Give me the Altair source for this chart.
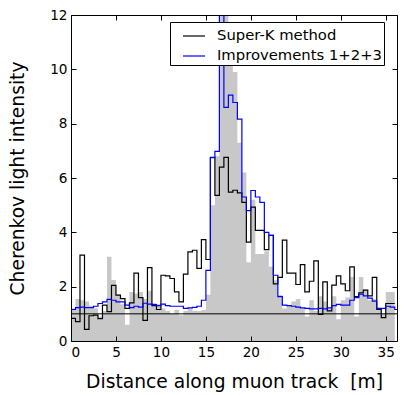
import altair as alt
import pandas as pd

BIN = 0.5
X_MAX = 36.25
Y_MAX = 12

x_ticks = [0, 5, 10, 15, 20, 25, 30, 35]
y_ticks = [0, 2, 4, 6, 8, 10, 12]

series_names = ["Super-K method", "Improvements 1+2+3"]
series_colors = ["black", "blue"]

# Super-K method (black step histogram), 0.5 m bins
superk = [0.83, 0.71, 3.16, 0.43, 0.93, 0.95, 0.82, 1.32, 1.08, 2.05,
          1.69, 1.56, 1.20, 1.40, 2.50, 1.60, 0.76, 2.70, 1.30, 1.16,
          2.42, 2.40, 2.30, 1.81, 1.44, 2.46, 3.28, 3.34, 2.67, 3.73,
          3.00, 6.76, 5.36, 6.40, 6.76, 5.48, 5.55, 5.45, 5.10, 3.64,
          4.93, 4.07, 4.07, 3.36, 3.89, 2.10, 2.34, 3.71, 2.50, 2.50,
          2.08, 2.81, 1.81, 2.20, 2.95, 0.98, 2.18, 1.11, 2.06, 2.40,
          2.10, 1.85, 2.73, 1.63, 1.77, 1.87, 1.66, 2.34, 1.16, 0.86,
          1.38, 1.38]

# Improvements 1+2+3 (blue step histogram)
improved = [1.16, 1.23, 1.25, 1.23, 1.23, 1.28, 1.38, 1.44, 1.53, 1.50,
            1.44, 1.44, 1.32, 1.23, 1.28, 1.25, 1.39, 1.36, 1.34, 1.30,
            1.36, 1.30, 1.28, 1.28, 1.28, 1.20, 1.22, 1.24, 1.28, 1.50,
            2.60, 6.75, 6.98, 13.0, 8.60, 9.05, 8.78, 8.17, 5.30, 4.80,
            5.54, 5.30, 5.10, 4.00, 3.89, 2.42, 1.63, 1.32, 1.30, 1.28,
            1.25, 1.22, 1.20, 1.18, 1.18, 1.20, 1.18, 1.22, 1.30, 1.35,
            1.32, 1.32, 1.50, 1.60, 1.72, 1.66, 1.58, 1.47, 1.20, 1.20,
            1.28, 1.25, 1.16]

# gray filled histogram
gray = [1.20, 1.55, 1.50, 1.45, 1.30, 1.20, 0.90, 1.10, 3.10, 2.25,
        1.70, 1.35, 0.60, 1.80, 1.75, 1.80, 1.55, 1.85, 1.40, 1.35,
        1.20, 1.10, 1.00, 1.15, 0.95, 1.10, 1.20, 1.10, 1.10, 1.14,
        1.70, 5.00, 6.80, 13.0, 13.0, 10.5, 9.90, 7.30, 6.20, 2.90,
        5.20, 3.20, 3.20, 3.30, 2.73, 2.24, 1.69, 1.20, 1.30, 1.45,
        1.55, 1.20, 0.90, 1.50, 1.10, 1.65, 1.45, 1.20, 1.65, 0.80,
        1.50, 1.60, 2.36, 0.90, 2.36, 1.90, 1.50, 1.55, 1.20, 1.00,
        1.80, 1.80]

baseline = [1.0]


def step_rows(vals, name):
    rows = [{"x": i * BIN, "v": v, "s": name} for i, v in enumerate(vals)]
    rows.append({"x": len(vals) * BIN, "v": vals[-1], "s": name})
    return rows


gray_df = pd.DataFrame(step_rows(gray, "gray"))
lines_df = pd.DataFrame(step_rows(superk, series_names[0]) + step_rows(improved, series_names[1]))
rule_df = pd.DataFrame({"y": baseline})

W, H = 326, 326
TICK = 5
xs = alt.Scale(domain=[0, X_MAX], nice=False, zero=False)
ys = alt.Scale(domain=[0, Y_MAX], nice=False, zero=False)

x_axis_main = alt.Axis(orient="bottom", values=x_ticks, title="Distance along muon track\u00a0 [m]",
                       grid=True, gridDash=[TICK, H - 2 * TICK], gridColor="black", gridOpacity=1, gridWidth=1,
                       ticks=False, tickSize=0, domain=True, domainColor="black", domainWidth=1,
                       labelPadding=4, titlePadding=14, zindex=1, format="d")
y_axis_main = alt.Axis(orient="left", values=y_ticks, title="Cherenkov light intensity",
                       grid=True, gridDash=[TICK, W - 2 * TICK], gridColor="black", gridOpacity=1, gridWidth=1,
                       ticks=False, tickSize=0, domain=True, domainColor="black", domainWidth=1,
                       labelPadding=4, titlePadding=22, zindex=1, format="d")
x_axis_top = alt.Axis(orient="top", labels=False, ticks=False, tickSize=0, grid=False, domain=True,
                      domainColor="black", domainWidth=1, title=None, zindex=1)
y_axis_right = alt.Axis(orient="right", labels=False, ticks=False, tickSize=0, grid=False, domain=True,
                        domainColor="black", domainWidth=1, title=None, zindex=1)

area = alt.Chart(gray_df).mark_area(interpolate="step-after", color="#c8c8c8", clip=True, opacity=1).encode(
    x=alt.X("x:Q", scale=xs, axis=x_axis_main),
    y=alt.Y("v:Q", scale=ys, axis=y_axis_main, stack=None),
    y2=alt.datum(0),
)

rule = alt.Chart(rule_df).mark_rule(color="black", strokeWidth=1).encode(
    y=alt.Y("y:Q", scale=ys, axis=None),
)

lines = alt.Chart(lines_df).mark_line(interpolate="step-after", clip=True, strokeWidth=1.2).encode(
    x=alt.X("x:Q", scale=xs, axis=x_axis_top),
    y=alt.Y("v:Q", scale=ys, axis=y_axis_right),
    color=alt.Color("s:N", scale=alt.Scale(domain=series_names, range=series_colors),
                    legend=alt.Legend(title=None, orient="none", legendX=99, legendY=7,
                                      symbolType="stroke", symbolSize=484, symbolStrokeWidth=1.2,
                                      symbolOffset=10, labelOffset=11, padding=2, rowPadding=1,
                                      labelLimit=400,
                                      labelFontSize=14.8, labelFont="DejaVu Sans", labelColor="black",
                                      strokeColor="black", fillColor="white", cornerRadius=0)),
    detail="s:N",
)

chart = alt.layer(area, rule, lines).properties(
    width=W, height=H,
    autosize=alt.AutoSizeParams(type="none"),
    padding={"left": 63, "top": 7, "right": 10, "bottom": 54},
).configure_view(stroke=None).configure_axis(
    labelFont="DejaVu Sans", labelFontSize=13.6, labelColor="black",
    titleFont="DejaVu Sans", titleFontSize=18.7, titleFontWeight="normal", titleColor="black",
)

chart.save("out.html", embed_options={"renderer": "svg", "actions": False})
